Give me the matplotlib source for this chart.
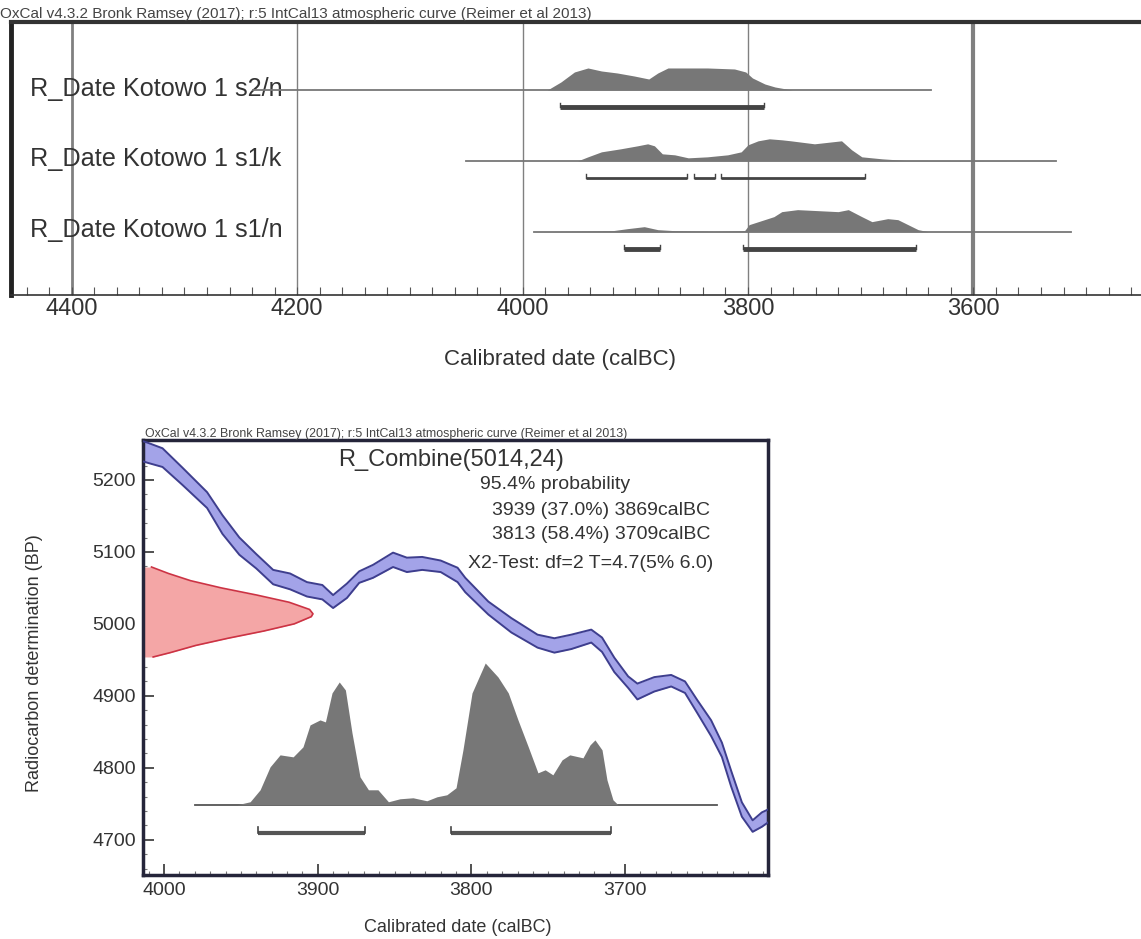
import matplotlib
matplotlib.use('Agg')
import matplotlib.pyplot as plt
import numpy as np
from matplotlib.ticker import MultipleLocator

plt.rcParams['font.family'] = ['Liberation Sans', 'DejaVu Sans']

title = 'OxCal v4.3.2 Bronk Ramsey (2017); r:5 IntCal13 atmospheric curve (Reimer et al 2013)'

# ---- top panel: three single dates (calBC, relative prob.)
row_names = ['R_Date Kotowo 1 s2/n', 'R_Date Kotowo 1 s1/k', 'R_Date Kotowo 1 s1/n']

s2n_year = [4239, 3978, 3966, 3954, 3942, 3930, 3916, 3901, 3888, 3880, 3871, 3836, 3812, 3802, 3796, 3785, 3776, 3761, 3638]
s2n_prob = [0, 0, 8, 18, 22, 19, 17, 14, 11, 17, 22, 22, 21, 18, 12, 6, 3, 0, 0]

s1k_year = [4050, 3951, 3942, 3930, 3913, 3898, 3889, 3883, 3876, 3865, 3853, 3836, 3818, 3806, 3800, 3791, 3781, 3770, 3762, 3741, 3717, 3708, 3699, 3681, 3661, 3527]
s1k_prob = [0, 0, 4, 9, 12, 15, 17, 15, 7, 6, 3, 4, 6, 9, 16, 20, 22, 21, 20, 17, 20, 11, 4, 2, 0.5, 0]

s1n_year = [3990, 3970, 3920, 3907, 3892, 3880, 3865, 3830, 3803, 3799, 3777, 3770, 3756, 3720, 3711, 3699, 3690, 3676, 3667, 3658, 3649, 3640, 3513]
s1n_prob = [0, 0.2, 1, 3, 5, 2, 1, 0.3, 1, 7, 15, 20, 22, 20, 22, 15, 10, 13, 12, 7, 2, 0, 0]

s2n_ranges = [(3967, 3786)]
s1k_ranges = [(3944, 3854), (3848, 3829), (3824, 3696)]
s1n_ranges = [(3910, 3878), (3804, 3651)]

# ---- bottom panel: combine
cal_year = [4014, 4011, 4001, 3988, 3972, 3962, 3951, 3940, 3929, 3918, 3907, 3897, 3890, 3881, 3873, 3864, 3851, 3842, 3832, 3820, 3809, 3804, 3789, 3774, 3757, 3746, 3735, 3722, 3715, 3707, 3698, 3692, 3681, 3670, 3661, 3653, 3644, 3637, 3631, 3624, 3617, 3611, 3607]
cal_bp = [5240, 5238, 5231, 5205, 5172, 5138, 5108, 5087, 5065, 5059, 5048, 5044, 5031, 5046, 5065, 5073, 5089, 5082, 5084, 5080, 5068, 5054, 5022, 4998, 4976, 4970, 4975, 4983, 4971, 4943, 4919, 4906, 4916, 4921, 4912, 4885, 4855, 4825, 4785, 4742, 4719, 4728, 4733]
cal_err = [14, 14, 13, 12, 11, 13, 12, 10, 10, 11, 10, 10, 9, 10, 8, 9, 10, 10, 9, 8, 10, 10, 9, 10, 9, 10, 10, 9, 10, 10, 8, 11, 10, 8, 8, 9, 11, 10, 11, 10, 8, 10, 9]

red_bp = [4954, 4960, 4970, 4980, 4990, 5000, 5010, 5014, 5020, 5030, 5040, 5050, 5060, 5070, 5079]
red_w = [0.06, 0.16, 0.31, 0.50, 0.71, 0.89, 0.99, 1.0, 0.98, 0.86, 0.67, 0.46, 0.28, 0.15, 0.05]

comb_year = [3980, 3952.5, 3944, 3937.5, 3931, 3924.5, 3916, 3909.6, 3905, 3898.5, 3895, 3890.7, 3886, 3882, 3877.7, 3872.5, 3867, 3860.8, 3854, 3846.5, 3838, 3829, 3822.4, 3816, 3810, 3805.5, 3799.6, 3791, 3782.7, 3776, 3769.7, 3763, 3756.7, 3752, 3747, 3741, 3736, 3727.4, 3722.8, 3719.6, 3715, 3711.8, 3707.9, 3704.6, 3640]
comb_prob = [0, 0, 3, 15, 38, 50, 48, 58, 80, 85, 83, 112, 123, 115, 72, 28, 15, 15, 3, 6, 7, 4, 8, 10, 17, 55, 112, 142, 128, 112, 85, 58, 32, 35, 30, 45, 50, 47, 60, 65, 55, 25, 5, 0, 0]
comb_ranges = [(3939, 3869), (3813, 3709)]

comb_text = ['95.4% probability', '3939 (37.0%) 3869calBC', '3813 (58.4%) 3709calBC']
chi_text = 'X2-Test: df=2 T=4.7(5% 6.0)'

W, H = 1141, 939
fig = plt.figure(figsize=(W / 100, H / 100), dpi=100)

# ================= top panel =================
ax1 = fig.add_axes([11 / W, 1 - 295 / H, 1132 / W, 273 / H])
ax1.set_xlim(4453.9, 3449.5)
ax1.set_ylim(-0.894, 2.96)

for yr, lw in [(4400, 2), (4200, 1), (4000, 1), (3800, 1), (3600, 3)]:
    ax1.axvline(yr, color='#808080', lw=lw, zorder=1)

rows = [(s2n_year, s2n_prob, s2n_ranges, 3.5),
        (s1k_year, s1k_prob, s1k_ranges, 2.0),
        (s1n_year, s1n_prob, s1n_ranges, 3.5)]
hscale = 0.311 / 22.0
for i, (yr, pr, rng, blw) in enumerate(rows):
    y0 = 2 - i
    yr = np.array(yr, float)
    pr = np.array(pr, float)
    ax1.plot([yr[0], yr[-1]], [y0, y0], color='#777777', lw=1.3, zorder=5)
    ax1.fill_between(yr, y0, y0 + pr * hscale, color='#777777', lw=0, zorder=3)
    yb = y0 - 0.245
    for a, b in rng:
        ax1.plot([a, b], [yb, yb], color='#444444', lw=blw, solid_capstyle='butt', zorder=3)
        ax1.plot([a, a], [yb, yb + 0.06], color='#444444', lw=1, zorder=3)
        ax1.plot([b, b], [yb, yb + 0.06], color='#444444', lw=1, zorder=3)
    ax1.text(19 / 1132, y0 + 0.02, row_names[i], transform=ax1.get_yaxis_transform(),
             ha='left', va='center', fontsize=18.2, color='#333333', zorder=4)

ax1.set_xticks([4400, 4200, 4000, 3800, 3600])
ax1.xaxis.set_minor_locator(MultipleLocator(20))
ax1.tick_params(axis='x', which='both', direction='in', length=6, width=0.8,
                color='#555555', labelsize=17, labelcolor='#333333', pad=2)
ax1.set_yticks([])
ax1.spines['right'].set_visible(False)
ax1.spines['left'].set_linewidth(3.5)
ax1.spines['left'].set_color('#222222')
ax1.spines['top'].set_linewidth(3)
ax1.spines['top'].set_color('#333333')
ax1.spines['bottom'].set_linewidth(1.2)
ax1.spines['bottom'].set_color('#333333')

fig.text(0.0, 1 - 14 / H, title, fontsize=11, color='#444444', va='center', ha='left')
fig.text(560 / W, 1 - 360 / H, 'Calibrated date (calBC)', fontsize=16,
         color='#333333', ha='center', va='center')

# ================= bottom panel =================
ax2 = fig.add_axes([143 / W, 1 - 875 / H, 625 / W, 435 / H])
x_left, x_right = 4013.7, 3607
ax2.set_xlim(x_left, x_right)
ax2.set_ylim(4651, 5255.5)

cy = np.array(cal_year, float)
cb = np.array(cal_bp, float)
ce = np.array(cal_err, float)
ax2.fill_between(cy, cb - ce, cb + ce, color='#a3a3e8', lw=0, zorder=2)
ax2.plot(cy, cb - ce, color='#3e3e8e', lw=1.4, zorder=3)
ax2.plot(cy, cb + ce, color='#3e3e8e', lw=1.4, zorder=3)

rw = np.array(red_w, float)
ax2.fill_betweenx(red_bp, x_left, x_left - 110.6 * rw, color='#f4a6a6', lw=0, zorder=2)
ax2.plot(x_left - 110.6 * rw, red_bp, color='#cc3344', lw=1.2, zorder=3)

gy = np.array(comb_year, float)
gp = np.array(comb_prob, float)
base = 4748.6
ax2.plot([gy[0], gy[-1]], [base, base], color='#555555', lw=1.3, zorder=3)
ax2.fill_between(gy, base, base + gp / 142.0 * 197.0, color='#777777', lw=0, zorder=3)
yb = 4710
for a, b in comb_ranges:
    ax2.plot([a, b], [yb, yb], color='#555555', lw=3, solid_capstyle='butt', zorder=3)
    ax2.plot([a, a], [yb, yb + 8], color='#444444', lw=1.2, zorder=3)
    ax2.plot([b, b], [yb, yb + 8], color='#444444', lw=1.2, zorder=3)

ax2.text(0.312, 0.954, 'R_Combine(5014,24)', transform=ax2.transAxes, fontsize=17,
         color='#333333', ha='left', va='center')
ax2.text(0.539, 0.8966, comb_text[0], transform=ax2.transAxes, fontsize=14,
         color='#333333', ha='left', va='center')
ax2.text(0.558, 0.839, comb_text[1], transform=ax2.transAxes, fontsize=14,
         color='#333333', ha='left', va='center')
ax2.text(0.558, 0.782, comb_text[2], transform=ax2.transAxes, fontsize=14,
         color='#333333', ha='left', va='center')
ax2.text(0.52, 0.717, chi_text, transform=ax2.transAxes, fontsize=14,
         color='#333333', ha='left', va='center')

ax2.set_xticks([4000, 3900, 3800, 3700])
ax2.xaxis.set_minor_locator(MultipleLocator(10))
ax2.set_yticks([4700, 4800, 4900, 5000, 5100, 5200])
ax2.yaxis.set_minor_locator(MultipleLocator(20))
ax2.tick_params(which='major', direction='in', length=8, width=1.2, color='#333333',
                labelsize=14, labelcolor='#333333', pad=5)
ax2.tick_params(which='minor', direction='in', length=3, width=0.8, color='#777777')
for s in ax2.spines.values():
    s.set_linewidth(2.5)
    s.set_color('#25253a')

fig.text(145 / W, 1 - 434 / H, title, fontsize=8.9, color='#444444', va='center', ha='left')
fig.text(35 / W, 1 - 663 / H, 'Radiocarbon determination (BP)', rotation=90,
         fontsize=13, color='#333333', ha='center', va='center')
fig.text(458 / W, 1 - 928 / H, 'Calibrated date (calBC)', fontsize=13,
         color='#333333', ha='center', va='center')

fig.savefig('out.png', dpi=100)
